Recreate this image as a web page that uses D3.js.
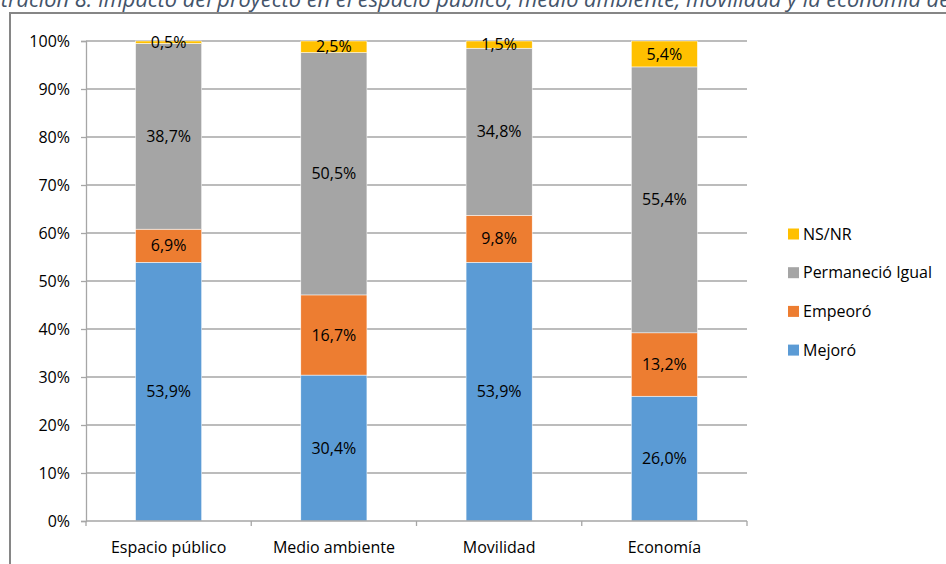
<!DOCTYPE html>
<html><head><meta charset="utf-8">
<script src="https://cdn.jsdelivr.net/npm/d3@7/dist/d3.min.js"></script>
<style>body{margin:0;background:#fff;}svg{display:block;font-family:"Open Sans",sans-serif;}</style>
</head><body>
<svg id="c" width="946" height="564"></svg>
<script>
const categories = ["Espacio público","Medio ambiente","Movilidad","Economía"];
const seriesNames = ["Mejoró","Empeoró","Permaneció Igual","NS/NR"];
const mejoro = [53.9, 30.4, 53.9, 26.0];
const empeoro = [6.9, 16.7, 9.8, 13.2];
const igual = [38.7, 50.5, 34.8, 55.4];
const nsnr = [0.5, 2.5, 1.5, 5.4];
const yTicks = [0,10,20,30,40,50,60,70,80,90,100];
const colors = ["#5b9bd5","#ed7d31","#a5a5a5","#ffc000"];
const titleText = "Ilustración 8. Impacto del proyecto en el espacio público, medio ambiente, movilidad y la economía de";

const svg = d3.select("#c");
const fmt = v => v.toFixed(1).replace(".", ",") + "%";
const FS = 16;

// title (cut off at top, as in the source)
svg.append("text").attr("x", 950).attr("y", 6.5).attr("text-anchor","end")
  .attr("font-style","italic").attr("font-size", 21.8).attr("fill","#44546a").text(titleText);

// outer frame
svg.append("rect").attr("x",10).attr("y",13).attr("width",960).attr("height",580)
  .attr("fill","none").attr("stroke","#868686").attr("stroke-width",2);

const x0 = 86, x1 = 747, yTop = 41, yBot = 521;
const x = d3.scaleBand().domain(categories).range([x0,x1]).paddingInner(0.6).paddingOuter(0.3);
const y = d3.scaleLinear().domain([0,100]).range([yBot,yTop]);

// gridlines
svg.append("g").selectAll("line").data(yTicks.filter(t=>t>0)).join("line")
  .attr("x1",x0).attr("x2",x1).attr("y1",d=>y(d)).attr("y2",d=>y(d))
  .attr("stroke","#a6a6a6").attr("stroke-width",1.3);

// y axis
const yAxis = d3.axisLeft(y).tickValues(yTicks).tickSize(5).tickPadding(11).tickFormat(d=>d+"%");
const gy = svg.append("g").attr("transform",`translate(${x0},0)`).call(yAxis);
gy.select(".domain").attr("stroke","#a6a6a6").attr("stroke-width",1.3);
gy.selectAll(".tick line").attr("stroke","#a6a6a6").attr("stroke-width",1.3);
gy.selectAll("text").attr("font-size",FS).attr("fill","#000").attr("font-family","Open Sans");

// stacked bars
const table = categories.map((c,i)=>({cat:c, "Mejoró":mejoro[i], "Empeoró":empeoro[i], "Permaneció Igual":igual[i], "NS/NR":nsnr[i]}));
const stack = d3.stack().keys(seriesNames)(table);
const layers = svg.append("g").selectAll("g").data(stack).join("g").attr("fill",(d,i)=>colors[i]);
layers.selectAll("rect").data(d=>d).join("rect")
  .attr("x",d=>x(d.data.cat)).attr("width",x.bandwidth())
  .attr("y",d=>y(Math.min(d[1],100))).attr("height",d=>y(d[0])-y(Math.min(d[1],100)))
  .attr("stroke","#fff").attr("stroke-width",0.5);

// labels
const lab = svg.append("g");
stack.forEach(layer=>{
  layer.forEach(d=>{
    const v = d[1]-d[0];
    lab.append("text").attr("x",x(d.data.cat)+x.bandwidth()/2)
      .attr("y",(y(d[0])+y(Math.min(d[1],100)))/2).attr("dy","0.35em")
      .attr("text-anchor","middle").attr("font-size",FS).attr("fill","#000").text(fmt(v));
  });
});

// x axis
const gx = svg.append("g").attr("transform",`translate(0,${yBot})`);
gx.append("line").attr("x1",x0).attr("x2",x1).attr("stroke","#a6a6a6").attr("stroke-width",1.3);
const bounds = d3.range(categories.length+1).map(i=>x0+i*(x1-x0)/categories.length);
gx.selectAll(".tk").data(bounds).join("line").attr("x1",d=>d).attr("x2",d=>d).attr("y1",0).attr("y2",5)
  .attr("stroke","#a6a6a6").attr("stroke-width",1.3);
gx.selectAll("text").data(categories).join("text").attr("x",d=>x(d)+x.bandwidth()/2).attr("y",32)
  .attr("text-anchor","middle").attr("font-size",FS).attr("fill","#000").text(d=>d);

// legend
const legendOrder = ["NS/NR","Permaneció Igual","Empeoró","Mejoró"];
const lg = svg.append("g").selectAll("g").data(legendOrder).join("g")
  .attr("transform",(d,i)=>`translate(788,${234+i*38.7})`);
lg.append("rect").attr("x",0).attr("y",-5.5).attr("width",11).attr("height",11)
  .attr("fill",d=>colors[seriesNames.indexOf(d)]);
lg.append("text").attr("x",15).attr("y",0).attr("dy","0.35em").attr("font-size",FS).attr("fill","#000").text(d=>d);
</script>
</body></html>
